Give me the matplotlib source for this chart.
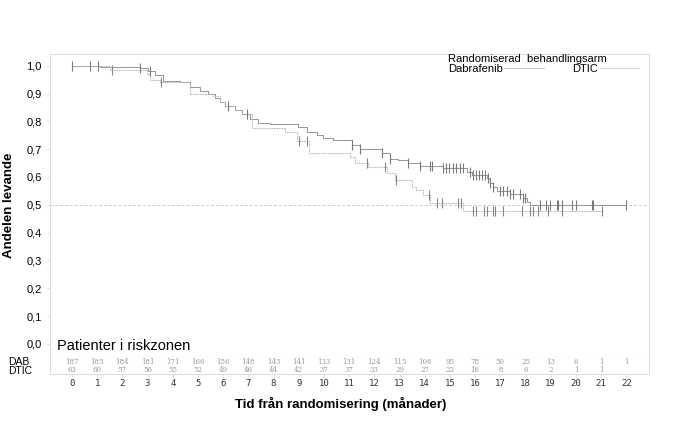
import numpy as np
import matplotlib
matplotlib.use("Agg")
import matplotlib.pyplot as plt
from matplotlib.lines import Line2D
from matplotlib.transforms import blended_transform_factory

plt.rcParams['font.family'] = ['Liberation Sans', 'DejaVu Sans']

# Kaplan-Meier, Dabrafenib (tid i månader, andel levande efter steget)
dab_tid = [0, 1.11, 2.70, 3.02, 3.29, 3.61, 4.29, 4.68, 5.08, 5.40, 5.67,
           5.87, 6.07, 6.47, 6.75, 7.06, 7.38, 7.86, 8.97, 9.33, 9.72,
           9.96, 10.36, 11.11, 11.43, 12.30, 12.62, 12.94, 13.33, 13.81,
           14.72, 15.67, 15.87, 16.47, 16.59, 16.71, 16.87, 17.38, 17.90,
           18.06, 18.17]
dab_andel = [1.0, 0.996, 0.99, 0.98, 0.965, 0.945, 0.94, 0.925, 0.91, 0.90,
             0.885, 0.87, 0.855, 0.84, 0.825, 0.81, 0.795, 0.79, 0.78, 0.762,
             0.75, 0.74, 0.733, 0.715, 0.70, 0.686, 0.665, 0.66, 0.65, 0.64,
             0.633, 0.618, 0.608, 0.595, 0.58, 0.565, 0.55, 0.54, 0.525,
             0.51, 0.498]
dab_slut = 22.0
dab_censur = [0, 0.71, 1.03, 2.70, 3.10, 6.19, 6.94, 11.11, 11.43, 12.30,
              12.62, 13.33, 13.81, 14.21, 14.29, 14.72, 14.84, 14.96, 15.12,
              15.24, 15.40, 15.52, 15.79, 15.91, 16.03, 16.15, 16.27, 16.39,
              16.51, 16.59, 16.71, 16.98, 17.10, 17.26, 17.38, 17.50, 17.78,
              17.90, 17.98, 18.57, 18.81, 18.97, 19.25, 19.29, 19.44, 19.84,
              20.0, 20.63, 20.67, 22.0]

# Kaplan-Meier, DTIC
dtic_tid = [0, 1.51, 2.98, 3.10, 3.49, 4.68, 5.60, 5.87, 6.07, 6.47, 6.75,
            7.14, 8.45, 8.93, 9.40, 11.03, 11.23, 11.75, 12.50, 12.82, 13.49,
            13.65, 13.93, 14.21, 15.52]
dtic_andel = [1.0, 0.985, 0.97, 0.95, 0.94, 0.90, 0.89, 0.87, 0.855, 0.84,
              0.825, 0.775, 0.76, 0.73, 0.686, 0.673, 0.652, 0.637, 0.615,
              0.59, 0.565, 0.553, 0.536, 0.508, 0.478]
dtic_slut = 21.03
dtic_censur = [1.59, 3.53, 9.01, 9.33, 11.71, 12.42, 12.86, 14.17, 14.48,
               14.68, 15.32, 15.44, 15.91, 16.03, 16.35, 16.47, 16.71, 16.79,
               17.10, 17.86, 18.17, 18.29, 18.49, 18.89, 19.44, 21.03]

# Patienter i riskzonen
manader = list(range(23))
risk_dab = [187, 185, 184, 181, 171, 166, 156, 148, 143, 141, 133, 131, 124,
            115, 106, 95, 78, 50, 25, 13, 6, 1, 1]
risk_dtic = [63, 60, 57, 56, 55, 52, 49, 46, 44, 42, 37, 37, 33, 29, 27, 22,
             16, 8, 6, 2, 1, 1]

y_ticks = [0.0, 0.1, 0.2, 0.3, 0.4, 0.5, 0.6, 0.7, 0.8, 0.9, 1.0]
y_etiketter = ['0,0', '0,1', '0,2', '0,3', '0,4', '0,5', '0,6', '0,7', '0,8',
               '0,9', '1,0']


def km_varde(tider, andelar, t):
    idx = np.searchsorted(tider, t, side='right') - 1
    return np.array(andelar)[idx]


fig = plt.figure(figsize=(6.85, 4.28), dpi=100)
ax = fig.add_axes([50 / 685, 1 - 357 / 428, 599 / 685, 303 / 428])
ax_tab = fig.add_axes([50 / 685, 1 - 374 / 428, 599 / 685, 17 / 428], sharex=ax)

ramfarg = '#dddddd'
for a in (ax, ax_tab):
    for s in a.spines.values():
        s.set_color(ramfarg)
        s.set_linewidth(0.8)

ax.set_xlim(-0.87, 22.9)
ax.set_ylim(-0.047, 1.042)

ax.axhline(0.5, color='#cccccc', lw=0.7, ls=(0, (3, 2)))

# kurvor
farg_dab = '#999999'
farg_dtic = '#b8b8b8'
ax.plot(dab_tid + [dab_slut], dab_andel + [dab_andel[-1]],
        drawstyle='steps-post', color=farg_dab, lw=0.75)
ax.plot(dtic_tid + [dtic_slut], dtic_andel + [dtic_andel[-1]],
        drawstyle='steps-post', color=farg_dtic, lw=0.75, ls=(0, (1.5, 0.8)))

ax.plot(dab_censur, km_varde(dab_tid, dab_andel, dab_censur), ls='none',
        marker='|', ms=7, mew=0.8, color='#7a7a7a')
ax.plot(dtic_censur, km_varde(dtic_tid, dtic_andel, dtic_censur), ls='none',
        marker='|', ms=7, mew=0.8, color='#858585')

ax.set_yticks(y_ticks)
ax.set_yticklabels(y_etiketter)
ax.tick_params(axis='y', labelsize=8, length=2, color=ramfarg, pad=4)
ax.tick_params(axis='x', bottom=False, labelbottom=False)
ax.set_ylabel('Andelen levande', fontsize=9.5, fontweight='bold', labelpad=8)

ax.text(0.012, 0.012, 'Patienter i riskzonen', transform=ax.transAxes,
        fontsize=10.5, va='bottom', ha='left')

# legend
h_dab = Line2D([], [], color='#c8c8c8', lw=0.8)
h_dtic = Line2D([], [], color='#c8c8c8', lw=0.8, ls=(0, (1.5, 0.8)))
leg = ax.legend([h_dab, h_dtic], ['Dabrafenib', 'DTIC'], ncol=2,
                markerfirst=False, frameon=False, fontsize=8,
                title='Randomiserad  behandlingsarm', title_fontsize=8,
                alignment='left', loc='upper left',
                bbox_to_anchor=(0.665, 1.0), handlelength=3.6,
                handletextpad=0.1, columnspacing=2.5, borderaxespad=0,
                borderpad=0, labelspacing=0)
leg._legend_box.sep = 0

# riskzon-tabell
ax_tab.set_yticks([])
ax_tab.set_ylim(0, 1)
ax_tab.spines['top'].set_visible(False)
trans = blended_transform_factory(ax_tab.transData, ax_tab.transAxes)
for m, n in zip(manader, risk_dab):
    ax_tab.text(m, 0.68, str(n), transform=trans, ha='center', va='center',
                fontsize=5, color='#999999', family='DejaVu Serif')
for m, n in zip(manader, risk_dtic):
    ax_tab.text(m, 0.25, str(n), transform=trans, ha='center', va='center',
                fontsize=5, color='#999999', family='DejaVu Serif')

ax_tab.set_xticks(manader)
ax_tab.set_xticklabels([str(m) for m in manader], family='DejaVu Sans Mono',
                       fontsize=6.5, color='#333333')
ax_tab.tick_params(axis='x', length=2, color=ramfarg, pad=1.5)
ax_tab.set_xlabel('Tid från randomisering (månader)', fontsize=9.5,
                  fontweight='bold', labelpad=2)
ax_tab.xaxis.set_label_coords(0.485, -1.35)

fig.text(8 / 685, 1 - 362 / 428, 'DAB', fontsize=7.5, va='center', ha='left')
fig.text(8 / 685, 1 - 371 / 428, 'DTIC', fontsize=7.5, va='center', ha='left')

fig.savefig('out.png', dpi=100)
